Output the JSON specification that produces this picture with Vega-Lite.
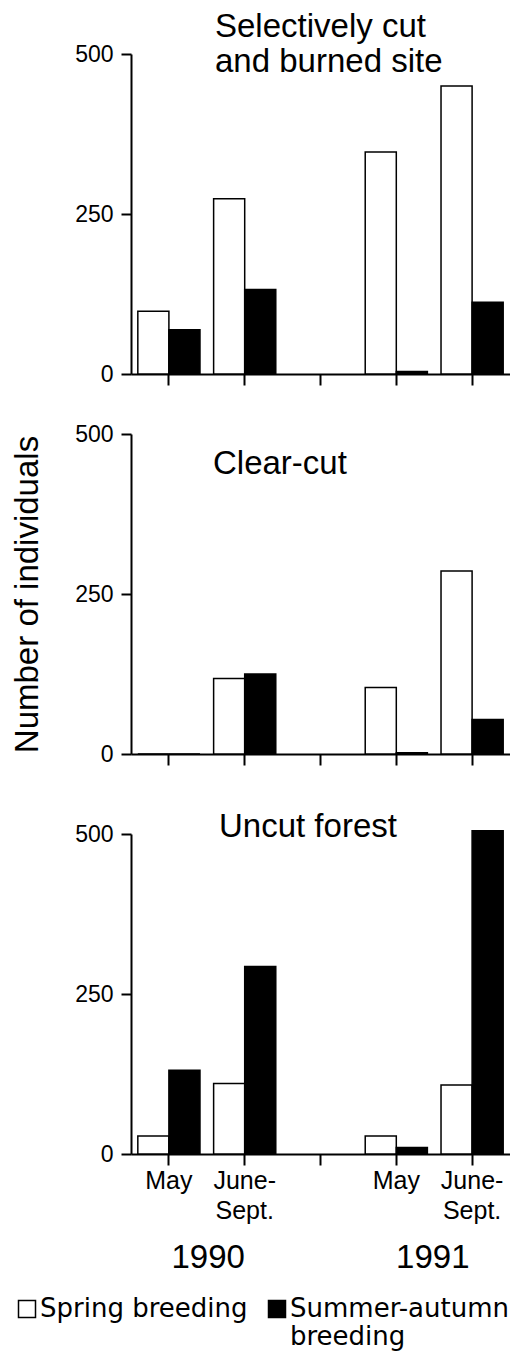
{
  "$schema": "https://vega.github.io/schema/vega-lite/v6.json",
  "padding": {"left": 11, "top": 11, "right": 0, "bottom": 5},
  "data": {"values": [
    {"site": "Selectively cut and burned site", "year": "1990", "period": "May 1990", "type": "Spring breeding", "count": 98},
    {"site": "Selectively cut and burned site", "year": "1990", "period": "May 1990", "type": "Summer-autumn breeding", "count": 69},
    {"site": "Selectively cut and burned site", "year": "1990", "period": "June-Sept. 1990", "type": "Spring breeding", "count": 274},
    {"site": "Selectively cut and burned site", "year": "1990", "period": "June-Sept. 1990", "type": "Summer-autumn breeding", "count": 132},
    {"site": "Selectively cut and burned site", "year": "1991", "period": "May 1991", "type": "Spring breeding", "count": 347},
    {"site": "Selectively cut and burned site", "year": "1991", "period": "May 1991", "type": "Summer-autumn breeding", "count": 4},
    {"site": "Selectively cut and burned site", "year": "1991", "period": "June-Sept. 1991", "type": "Spring breeding", "count": 450},
    {"site": "Selectively cut and burned site", "year": "1991", "period": "June-Sept. 1991", "type": "Summer-autumn breeding", "count": 112},
    {"site": "Clear-cut", "year": "1990", "period": "May 1990", "type": "Spring breeding", "count": 0},
    {"site": "Clear-cut", "year": "1990", "period": "May 1990", "type": "Summer-autumn breeding", "count": 0},
    {"site": "Clear-cut", "year": "1990", "period": "June-Sept. 1990", "type": "Spring breeding", "count": 118},
    {"site": "Clear-cut", "year": "1990", "period": "June-Sept. 1990", "type": "Summer-autumn breeding", "count": 125},
    {"site": "Clear-cut", "year": "1991", "period": "May 1991", "type": "Spring breeding", "count": 104},
    {"site": "Clear-cut", "year": "1991", "period": "May 1991", "type": "Summer-autumn breeding", "count": 2},
    {"site": "Clear-cut", "year": "1991", "period": "June-Sept. 1991", "type": "Spring breeding", "count": 286},
    {"site": "Clear-cut", "year": "1991", "period": "June-Sept. 1991", "type": "Summer-autumn breeding", "count": 54},
    {"site": "Uncut forest", "year": "1990", "period": "May 1990", "type": "Spring breeding", "count": 28},
    {"site": "Uncut forest", "year": "1990", "period": "May 1990", "type": "Summer-autumn breeding", "count": 131},
    {"site": "Uncut forest", "year": "1990", "period": "June-Sept. 1990", "type": "Spring breeding", "count": 110},
    {"site": "Uncut forest", "year": "1990", "period": "June-Sept. 1990", "type": "Summer-autumn breeding", "count": 293},
    {"site": "Uncut forest", "year": "1991", "period": "May 1991", "type": "Spring breeding", "count": 28},
    {"site": "Uncut forest", "year": "1991", "period": "May 1991", "type": "Summer-autumn breeding", "count": 10},
    {"site": "Uncut forest", "year": "1991", "period": "June-Sept. 1991", "type": "Spring breeding", "count": 108},
    {"site": "Uncut forest", "year": "1991", "period": "June-Sept. 1991", "type": "Summer-autumn breeding", "count": 505}
  ]},
  "config": {
    "font": "Liberation Sans",
    "view": {"stroke": null},
    "axis": {"grid": false, "domainColor": "black", "domainWidth": 2, "tickColor": "black", "tickWidth": 2, "labelColor": "black", "labelFont": "Liberation Sans", "titleFont": "Liberation Sans", "titleColor": "black", "titleFontWeight": "normal"},
    "title": {"font": "Liberation Sans", "fontSize": 33, "fontWeight": "normal", "color": "black", "anchor": "start", "frame": "group", "baseline": "alphabetic", "lineHeight": 35},
    "bar": {"stroke": "black", "strokeWidth": 1.5}
  },
  "spacing": 37,
  "vconcat": [
    {
      "title": {"text": ["Selectively cut", "and burned site"], "dx": 84, "offset": -36},
      "width": 379, "height": 320,
      "transform": [{"filter": "datum.site == 'Selectively cut and burned site'"}],
      "mark": {"type": "bar"},
      "encoding": {
        "x": {"field": "period", "type": "nominal", "title": null,
              "scale": {"domain": ["May 1990", "June-Sept. 1990", "gap", "May 1991", "June-Sept. 1991"], "paddingInner": 0.18, "paddingOuter": 0.09},
              "axis": {"labels": false, "tickSize": 11}},
        "xOffset": {"field": "type", "type": "nominal", "scale": {"paddingInner": 0, "paddingOuter": 0}},
        "y": {"field": "count", "type": "quantitative", "title": null,
              "scale": {"domain": [0, 500], "nice": false},
              "axis": {"values": [0, 250, 500], "labelFontSize": 23, "tickSize": 10, "labelPadding": 8}},
        "fill": {"field": "type", "type": "nominal", "scale": {"domain": ["Spring breeding", "Summer-autumn breeding"], "range": ["white", "black"]},
                 "legend": {"orient": "none", "legendX": -117, "legendY": 1242, "direction": "horizontal", "title": null, "symbolType": "square", "symbolSize": 289, "symbolStrokeColor": "black", "symbolStrokeWidth": 1.5, "labelFont": "DejaVu Sans", "labelFontSize": 26, "labelColor": "black", "labelLimit": 400, "labelOffset": 0, "columnPadding": 16,
                            "labelExpr": "datum.label == 'Summer-autumn breeding' ? ['Summer-autumn', 'breeding'] : [datum.label, '']",
                            "encode": {"labels": {"update": {"lineHeight": {"value": 33}}}}}}
      }
    },
    {
      "title": {"text": "Clear-cut", "dx": 82, "offset": -58},
      "width": 379, "height": 320,
      "transform": [{"filter": "datum.site == 'Clear-cut'"}],
      "mark": {"type": "bar"},
      "encoding": {
        "x": {"field": "period", "type": "nominal", "title": null,
              "scale": {"domain": ["May 1990", "June-Sept. 1990", "gap", "May 1991", "June-Sept. 1991"], "paddingInner": 0.18, "paddingOuter": 0.09},
              "axis": {"labels": false, "tickSize": 11, "minExtent": 20}},
        "xOffset": {"field": "type", "type": "nominal", "scale": {"paddingInner": 0, "paddingOuter": 0}},
        "y": {"field": "count", "type": "quantitative", "title": "Number of individuals",
              "scale": {"domain": [0, 500], "nice": false},
              "axis": {"values": [0, 250, 500], "labelFontSize": 23, "tickSize": 10, "labelPadding": 8, "titleFontSize": 33, "titlePadding": 30}},
        "fill": {"field": "type", "type": "nominal", "scale": {"domain": ["Spring breeding", "Summer-autumn breeding"], "range": ["white", "black"]}}
      }
    },
    {
      "title": {"text": "Uncut forest", "dx": 88, "offset": -21},
      "width": 379, "height": 320,
      "transform": [{"filter": "datum.site == 'Uncut forest'"}],
      "layer": [
        {
          "mark": {"type": "bar"},
          "encoding": {
            "x": {"field": "period", "type": "nominal", "title": null,
                  "scale": {"domain": ["May 1990", "June-Sept. 1990", "gap", "May 1991", "June-Sept. 1991"], "paddingInner": 0.18, "paddingOuter": 0.09},
                  "axis": {"tickSize": 11, "labelFontSize": 25, "labelPadding": 3, "labelLineHeight": 30, "labelAngle": 0,
                           "labelExpr": "datum.value == 'gap' ? '' : (indexof(datum.value, 'May') == 0 ? 'May' : ['June-', 'Sept.'])"}},
            "xOffset": {"field": "type", "type": "nominal", "scale": {"paddingInner": 0, "paddingOuter": 0}},
            "y": {"field": "count", "type": "quantitative", "title": null,
                  "scale": {"domain": [0, 500], "nice": false},
                  "axis": {"values": [0, 250, 500], "labelFontSize": 23, "tickSize": 10, "labelPadding": 8}},
            "fill": {"field": "type", "type": "nominal", "scale": {"domain": ["Spring breeding", "Summer-autumn breeding"], "range": ["white", "black"]}}
          }
        },
        {
          "mark": {"type": "tick", "opacity": 0},
          "encoding": {
            "x": {"field": "year", "type": "nominal", "title": null,
                  "scale": {"domain": ["1990", "gap", "1991"], "paddingInner": 0, "paddingOuter": 0.1875},
                  "axis": {"orient": "bottom", "offset": 80, "domain": false, "ticks": false, "tickSize": 0, "labelPadding": 7, "labelFontSize": 33, "labelAngle": 0,
                           "labelExpr": "datum.value == 'gap' ? '' : datum.label"}}
          }
        }
      ],
      "resolve": {"scale": {"x": "independent"}}
    }
  ]
}
